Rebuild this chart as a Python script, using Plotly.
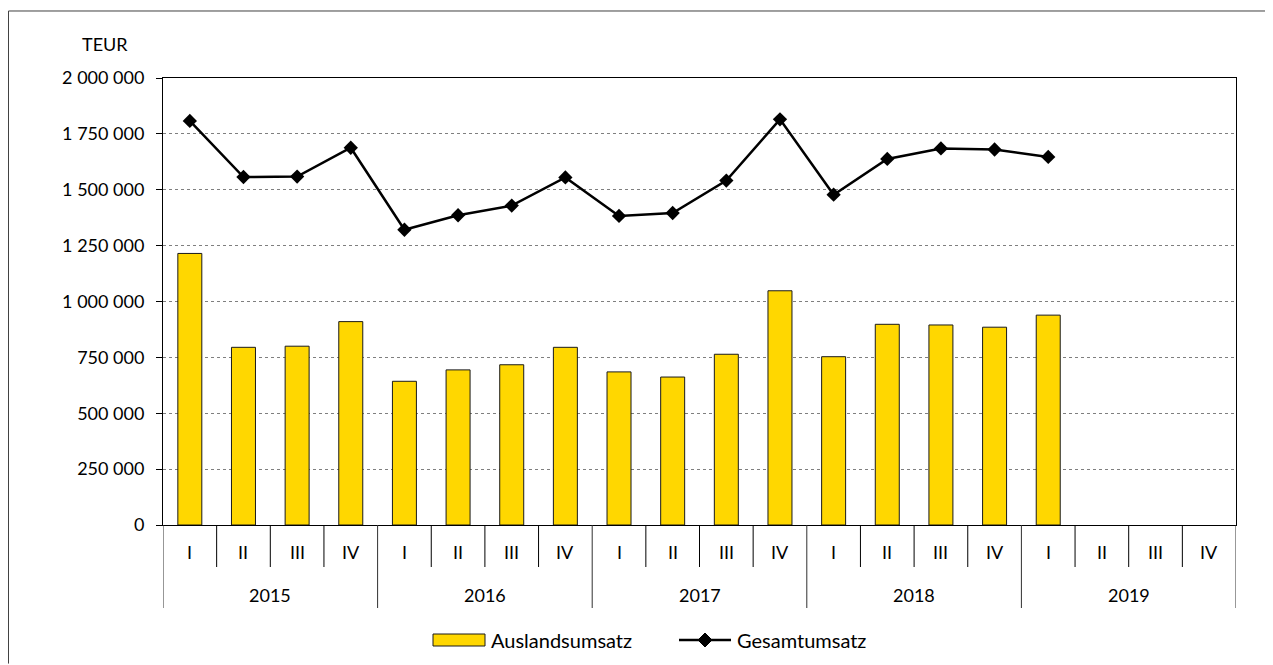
import plotly.graph_objects as go

years = ["2015", "2016", "2017", "2018", "2019"]
quarters = ["I", "II", "III", "IV"]
categories = [f"{y} {q}" for y in years for q in quarters]

auslandsumsatz = [1215000, 795000, 800000, 910000,
                  643000, 694000, 717000, 795000,
                  685000, 662000, 764000, 1048000,
                  753000, 898000, 895000, 885000,
                  939000, None, None, None]
gesamtumsatz = [1808000, 1557000, 1559000, 1688000,
                1321000, 1386000, 1429000, 1555000,
                1383000, 1396000, 1541000, 1815000,
                1478000, 1638000, 1685000, 1680000,
                1647000, None, None, None]

y_ticks = [0, 250000, 500000, 750000, 1000000, 1250000, 1500000, 1750000, 2000000]
unit_label = "TEUR"
series_names = ["Auslandsumsatz", "Gesamtumsatz"]

FONT = "Lato"
BAR_COLOR = "#FFD700"

fig = go.Figure()
fig.add_trace(go.Bar(
    x=categories, y=auslandsumsatz, name=series_names[0],
    marker=dict(color=BAR_COLOR, line=dict(color="#1a1a1a", width=1)),
    showlegend=False,
))
fig.add_trace(go.Scatter(
    x=categories, y=gesamtumsatz, name=series_names[1], mode="lines+markers",
    line=dict(color="black", width=2.5),
    marker=dict(symbol="diamond", size=11, color="black"),
    showlegend=False, connectgaps=False,
))

shapes = []
annotations = []
n = len(categories)
# quarter labels and dividers
for i, c in enumerate(categories):
    q = c.split(" ")[1]
    annotations.append(dict(x=i, y=0, xref="x", yref="paper", text=q, showarrow=False,
                            yanchor="middle", yshift=-27,
                            font=dict(family=FONT, size=18, color="black")))
for i in range(n + 1):
    long_line = (i % len(quarters) == 0)
    shapes.append(dict(type="line", xref="x", yref="paper", ysizemode="pixel", yanchor=0,
                       x0=i - 0.5, x1=i - 0.5, y0=0, y1=-83 if long_line else -42,
                       line=dict(color="black" if not long_line else "#303030", width=1)))
for j, yr in enumerate(years):
    annotations.append(dict(x=j * len(quarters) + (len(quarters) - 1) / 2, y=0, xref="x", yref="paper",
                            text=yr, showarrow=False, yanchor="middle", yshift=-70,
                            font=dict(family=FONT, size=18, color="black")))
# unit label
annotations.append(dict(x=0, y=1, xref="paper", yref="paper", text=unit_label, showarrow=False,
                        xanchor="center", yanchor="middle", xshift=-58, yshift=34,
                        font=dict(family=FONT, size=18, color="black")))

# outer border (top and left edges)
shapes.append(dict(type="line", xref="paper", yref="paper", x0=-0.144, x1=1.032, y0=1.1499, y1=1.1499,
                   line=dict(color="#404040", width=1), layer="below"))
shapes.append(dict(type="line", xref="paper", yref="paper", x0=-0.144, x1=-0.144, y0=-0.31, y1=1.1499,
                   line=dict(color="#404040", width=1), layer="below"))

# custom legend
leg_y = (525 - 640) / 447
shapes.append(dict(type="rect", xref="paper", yref="paper", xsizemode="pixel", ysizemode="pixel",
                   xanchor=(433 - 163) / 1073, yanchor=leg_y, x0=0, x1=52, y0=-6, y1=6,
                   fillcolor=BAR_COLOR, line=dict(color="#1a1a1a", width=1)))
annotations.append(dict(x=(489 - 163) / 1073, y=leg_y, xref="paper", yref="paper",
                        xanchor="left", yanchor="middle",
                        text=series_names[0], showarrow=False,
                        font=dict(family=FONT, size=20, color="black")))
shapes.append(dict(type="line", xref="paper", yref="paper", xsizemode="pixel", ysizemode="pixel",
                   xanchor=(679 - 163) / 1073, yanchor=leg_y, x0=0, x1=52, y0=0, y1=0,
                   line=dict(color="black", width=2.5)))
shapes.append(dict(type="path", xref="paper", yref="paper", xsizemode="pixel", ysizemode="pixel",
                   xanchor=(705 - 163) / 1073, yanchor=leg_y,
                   path="M -7 0 L 0 7 L 7 0 L 0 -7 Z", fillcolor="black", line=dict(color="black", width=1)))
annotations.append(dict(x=(735 - 163) / 1073, y=leg_y, xref="paper", yref="paper",
                        xanchor="left", yanchor="middle",
                        text=series_names[1], showarrow=False,
                        font=dict(family=FONT, size=20, color="black")))

fig.update_layout(
    width=1265, height=657, autosize=False,
    margin=dict(l=155, r=37, t=70, b=140),
    paper_bgcolor="white", plot_bgcolor="white",
    separators=", ",
    bargap=0.553,
    font=dict(family=FONT, size=18, color="black"),
    shapes=shapes, annotations=annotations,
    showlegend=False,
)
fig.update_xaxes(type="category", categoryorder="array", categoryarray=categories,
                 range=[-0.5, n - 0.5], showticklabels=False, ticks="", showgrid=False,
                 showline=True, linecolor="black", linewidth=1, mirror=True, zeroline=False)
fig.update_yaxes(range=[0, 2000000], tickvals=y_ticks, tickformat=",d",
                 showgrid=True, gridcolor="#7f7f7f", griddash="dot", gridwidth=1,
                 ticks="outside", ticklen=6, tickcolor="black",
                 showline=True, linecolor="black", linewidth=1, mirror=True, zeroline=False,
                 ticklabelstandoff=8, tickfont=dict(family=FONT, size=18, color="black"))

fig.write_html("out.html")
